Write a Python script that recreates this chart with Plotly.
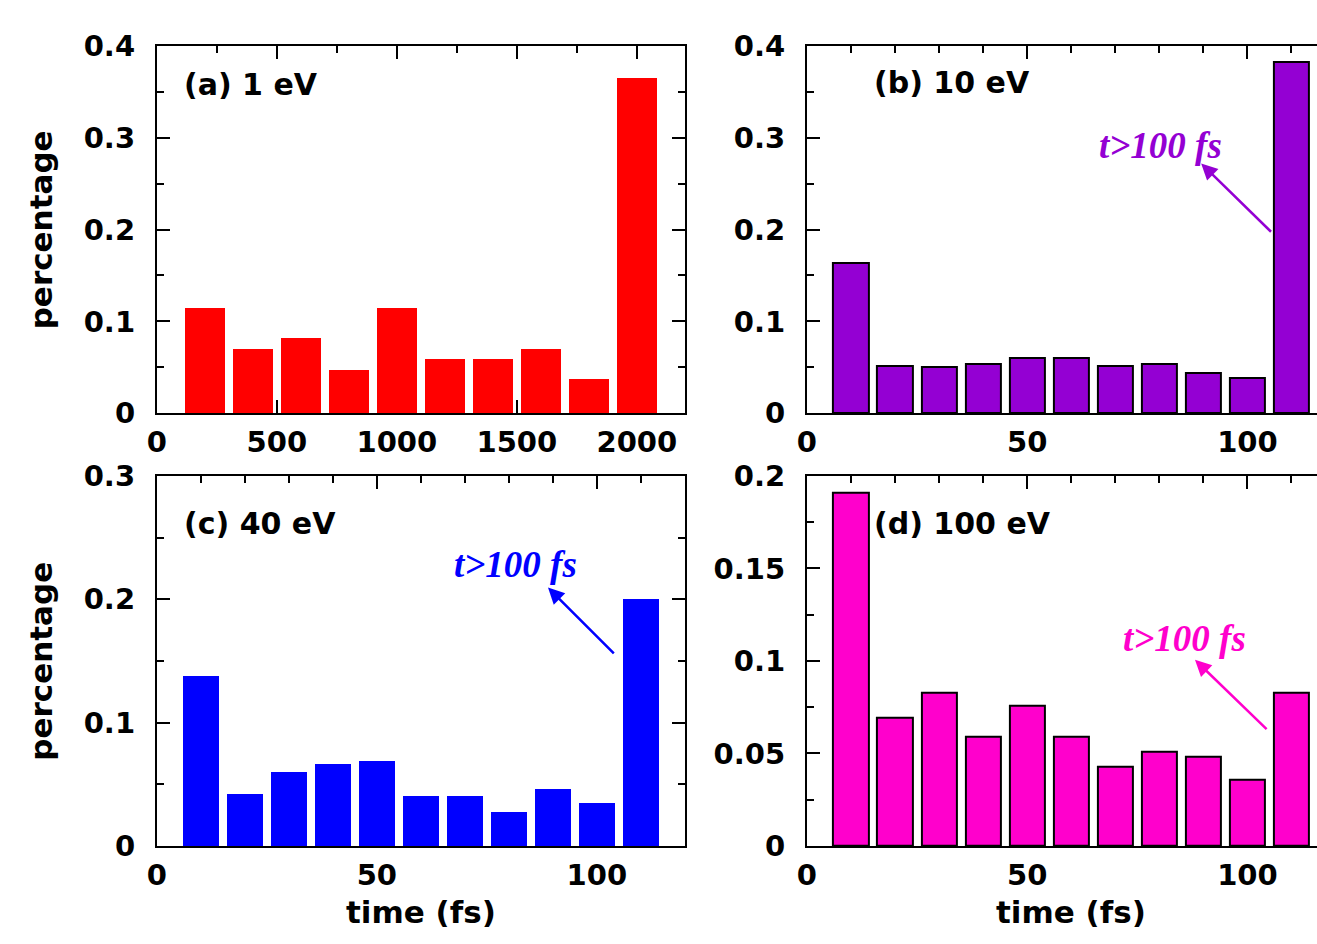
import plotly.graph_objects as go

W, H = 1317, 944

# ---------------- data ----------------
time_a = [200, 400, 600, 800, 1000, 1200, 1400, 1600, 1800, 2000]
pct_a = [0.115, 0.070, 0.082, 0.047, 0.115, 0.059, 0.059, 0.070, 0.037, 0.365]

time_fs = [10, 20, 30, 40, 50, 60, 70, 80, 90, 100, 110]
pct_b = [0.164, 0.052, 0.050, 0.054, 0.060, 0.060, 0.052, 0.054, 0.044, 0.038, 0.383]
pct_c = [0.138, 0.042, 0.060, 0.067, 0.069, 0.041, 0.041, 0.028, 0.046, 0.035, 0.200]
pct_d = [0.191, 0.069, 0.083, 0.059, 0.076, 0.059, 0.043, 0.051, 0.048, 0.036, 0.083]

panel_labels = ["(a) 1 eV", "(b) 10 eV", "(c) 40 eV", "(d) 100 eV"]
note_text = "t>100 fs"

yticks_ab = [0, 0.1, 0.2, 0.3, 0.4]
yticks_c = [0, 0.1, 0.2, 0.3]
yticks_d = [0, 0.05, 0.1, 0.15, 0.2]
xticks_a = [0, 500, 1000, 1500, 2000]
xticks_fs = [0, 50, 100]

RED = "#FF0000"
PURPLE = "#9400D3"
BLUE = "#0000FF"
MAGENTA = "#FF00CC"

TICKFONT = dict(family="DejaVu Sans", size=29, color="black", weight="bold")
LABFONT = dict(family="DejaVu Sans", size=30, color="black", weight="bold")
TITLEFONT = dict(family="DejaVu Sans", size=31, color="black", weight="bold")
NOTEFONT = dict(family="Liberation Serif", size=37, weight="bold", style="italic")

fig = go.Figure()

fig.add_trace(go.Bar(x=time_a, y=pct_a, width=166, marker=dict(color=RED, line=dict(width=0)),
                     xaxis="x", yaxis="y", showlegend=False))
fig.add_trace(go.Bar(x=time_fs, y=pct_b, width=8, marker=dict(color=PURPLE, line=dict(width=2, color="black")),
                     xaxis="x2", yaxis="y2", showlegend=False))
fig.add_trace(go.Bar(x=time_fs, y=pct_c, width=8, marker=dict(color=BLUE, line=dict(width=0)),
                     xaxis="x3", yaxis="y3", showlegend=False))
fig.add_trace(go.Bar(x=time_fs, y=pct_d, width=8, marker=dict(color=MAGENTA, line=dict(width=2, color="black")),
                     xaxis="x4", yaxis="y4", showlegend=False))

xl = [148 / W, 680 / W]
xr = [803 / W, 1.0]
yt = [1 - 411 / H, 1 - 30 / H]
yb = [1 - 860 / H, 1 - 476 / H]


def xax(domain, rng, tv, minor, anchor):
    return dict(domain=domain, range=rng, anchor=anchor, tickvals=tv, ticktext=[str(v) for v in tv],
                ticks="inside", ticklen=13, tickwidth=2, tickcolor="black",
                showline=True, linewidth=2, linecolor="black", mirror="ticks",
                showgrid=False, zeroline=False, tickfont=TICKFONT, ticklabelstandoff=2,
                minor=dict(tickvals=[minor * k for k in range(0, 40) if minor * k <= rng[1]],
                           ticks="inside", ticklen=7, tickwidth=2, tickcolor="black", showgrid=False),
                layer="below traces", fixedrange=True)


def yax(domain, rng, tv, minor, anchor, mirror):
    return dict(domain=domain, range=rng, anchor=anchor, tickvals=tv,
                ticktext=[("0" if v == 0 else f"{v:g}") for v in tv],
                ticks="inside", ticklen=13, tickwidth=2, tickcolor="black",
                showline=True, linewidth=2, linecolor="black", mirror=mirror,
                showgrid=False, zeroline=False, tickfont=TICKFONT, ticklabelstandoff=14,
                minor=dict(tickvals=[round(minor * k, 4) for k in range(0, 40) if minor * k <= rng[1] + 1e-9],
                           ticks="inside", ticklen=7, tickwidth=2, tickcolor="black", showgrid=False),
                layer="below traces", fixedrange=True)


xmax_r = 115.8

fig.update_layout(
    width=W, height=H,
    margin=dict(l=0, r=0, t=0, b=0),
    paper_bgcolor="white", plot_bgcolor="white",
    bargap=0,
    xaxis=xax(xl, [0, 2200], xticks_a, 250, "y"),
    yaxis=yax(yt, [0, 0.4], yticks_ab, 0.05, "x", "ticks"),
    xaxis2=xax(xr, [0, xmax_r], xticks_fs, 10, "y2"),
    yaxis2=yax(yt, [0, 0.4], yticks_ab, 0.05, "x2", False),
    xaxis3=xax(xl, [0, 120], xticks_fs, 10, "y3"),
    yaxis3=yax(yb, [0, 0.3], yticks_c, 0.05, "x3", "ticks"),
    xaxis4=xax(xr, [0, xmax_r], xticks_fs, 10, "y4"),
    yaxis4=yax(yb, [0, 0.2], yticks_d, 0.025, "x4", False),
)

annotations = []
# panel labels
for txt, (px, py) in zip(panel_labels, [(173, 70), (869, 68), (173, 525), (869, 525)]):
    annotations.append(dict(text=txt, x=px / W, y=1 - py / H, xref="paper", yref="paper",
                            xanchor="left", yanchor="middle", showarrow=False, font=LABFONT))

# axis titles
for cy in [(30 + 411) / 2, (476 + 860) / 2]:
    annotations.append(dict(text="percentage", x=31 / W, y=1 - cy / H, xref="paper", yref="paper",
                            xanchor="center", yanchor="middle", textangle=-90, showarrow=False,
                            font=TITLEFONT))
for xa in ["x3", "x4"]:
    annotations.append(dict(text="time (fs)", x=60, y=1 - 928 / H, xref=xa, yref="paper",
                            xanchor="center", yanchor="middle", showarrow=False, font=TITLEFONT))

# "t>100 fs" notes with arrows
notes = [
    ("x2", "y2", PURPLE, (80.2, 0.292), (89.5, 0.272), (105.7, 0.196)),
    ("x3", "y3", BLUE, (81.6, 0.228), (88.9, 0.2095), (104.2, 0.155)),
    ("x4", "y4", MAGENTA, (85.7, 0.112), (88.1, 0.1006), (104.7, 0.0624)),
]
for xa, ya, col, (tx, ty), (hx, hy), (sx, sy) in notes:
    annotations.append(dict(text=note_text, x=tx, y=ty, xref=xa, yref=ya, showarrow=False,
                            xanchor="center", yanchor="middle",
                            font=dict(NOTEFONT, color=col)))
    annotations.append(dict(text="", x=hx, y=hy, ax=sx, ay=sy, xref=xa, yref=ya, axref=xa, ayref=ya,
                            showarrow=True, arrowhead=2, arrowsize=1.3, arrowwidth=2.5, arrowcolor=col))

fig.update_layout(annotations=annotations)

fig.write_html("out.html", config={"displayModeBar": False})
